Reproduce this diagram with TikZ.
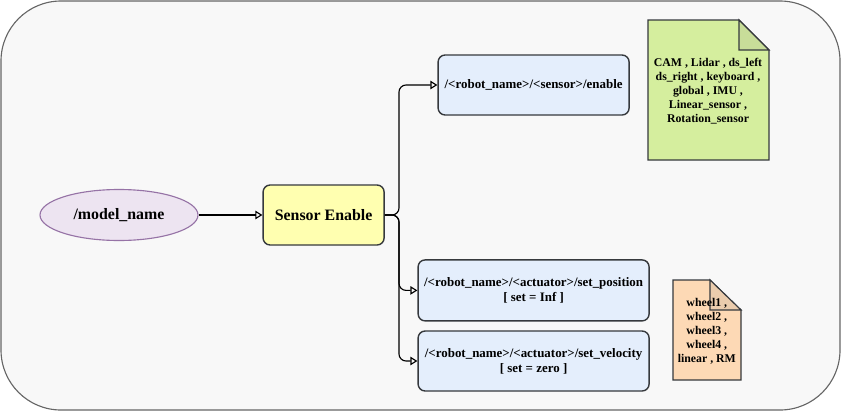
\documentclass[tikz,border=0pt]{standalone}
\usepackage{fontspec}
\setmainfont{Liberation Serif}
\usetikzlibrary{shapes.geometric,arrows.meta}

\definecolor{bgfill}{HTML}{F8F8F8}
\definecolor{bgline}{HTML}{666666}
\definecolor{purplefill}{HTML}{EDE4F1}
\definecolor{purpleline}{HTML}{9673A6}
\definecolor{yellowfill}{HTML}{FFFFB0}
\definecolor{bluefill}{HTML}{E4EEFC}
\definecolor{greenfill}{HTML}{D5EE9E}
\definecolor{orangefill}{HTML}{FDD9B5}
\definecolor{darkline}{HTML}{36393D}

\tikzset{
  bigtext/.style={font=\fontsize{11.3}{13}\selectfont\bfseries},
  topic/.style={rectangle,rounded corners=5pt,draw=darkline,line width=1pt,fill=bluefill,minimum height=1.5cm,align=center,font=\fontsize{9.2}{10.7}\selectfont\bfseries},
  link/.style={-{Triangle[open,length=5pt,width=6pt]},line width=0.8pt,rounded corners=5pt},
  notetext/.style={align=center,font=\fontsize{8.4}{10}\selectfont\bfseries}
}

\begin{document}
\begin{tikzpicture}
		  \useasboundingbox (0,0) rectangle (21.025,-10.275);

		  % outer frame
		  \draw[bgline,fill=bgfill,rounded corners=1.5cm,line width=0.8pt] (0.025,-0.025) rectangle (21,-10.25);

		  % model and enabling node
		  \node[ellipse,draw=purpleline,fill=purplefill,line width=0.8pt,minimum width=3.95cm,minimum height=1.275cm,bigtext] (modelname) at (2.975,-5.375) {/model\_name};
		  \node[rectangle,rounded corners=5pt,draw=darkline,fill=yellowfill,line width=1pt,minimum width=3.025cm,minimum height=1.5cm,bigtext] (sensorenable) at (8.09,-5.375) {Sensor Enable};

		  % topics
		  \node[topic,minimum width=4.775cm] (enable) at (13.34,-2.125) {/<robot\_name>/<sensor>/enable};
		  \node[topic,minimum width=5.775cm,minimum height=1.525cm] (setpos) at (13.34,-7.26) {/<robot\_name>/<actuator>/set\_position\\{[ set = Inf ]}};
		  \node[topic,minimum width=5.775cm] (setvel) at (13.34,-9.025) {/<robot\_name>/<actuator>/set\_velocity\\{[ set = zero ]}};

		  % connectors
		  \coordinate (split) at (9.975,-5.375);
			\draw[link] (modelname) -- (sensorenable);
			\draw[link] (sensorenable.east) -- (split) |- (enable.west);
			\draw[link] (sensorenable.east) -- (split) |- (setpos.west);
			\draw[link] (sensorenable.east) -- (split) |- (setvel.west);

		  % sensor note
		  \draw[darkline,fill=greenfill,line width=0.8pt] (16.2,-0.5) -- (18.475,-0.5) -- (19.225,-1.25) -- (19.225,-4) -- (16.2,-4) -- cycle;
		  \draw[darkline,fill=greenfill!85!gray,line width=0.8pt] (18.475,-0.5) -- (18.475,-1.25) -- (19.225,-1.25) -- cycle;
		  \node[notetext] (sensorlist) at (17.7,-2.275) {CAM , Lidar , ds\_left\\ds\_right , keyboard ,\\global , IMU ,\\Linear\_sensor ,\\Rotation\_sensor};

		  % actuator note
		  \draw[darkline,fill=orangefill,line width=0.8pt] (16.825,-7) -- (17.75,-7) -- (18.525,-7.75) -- (18.525,-9.5) -- (16.825,-9.5) -- cycle;
		  \draw[darkline,fill=orangefill!85!gray,line width=0.8pt] (17.75,-7) -- (17.75,-7.75) -- (18.525,-7.75) -- cycle;
		  \node[notetext] (actuatorlist) at (17.67,-8.275) {wheel1 ,\\wheel2 ,\\wheel3 ,\\wheel4 ,\\linear , RM};
	  \end{tikzpicture}
\end{document}
